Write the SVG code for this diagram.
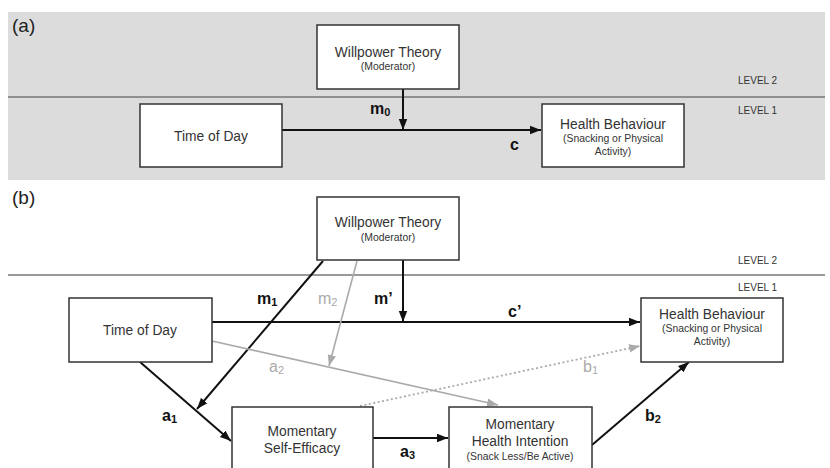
<svg xmlns="http://www.w3.org/2000/svg" width="830" height="468" viewBox="0 0 830 468">
<style>
text{font-family:"Liberation Sans",Arial,sans-serif;fill:#333}
.box{fill:#fff;stroke:#333;stroke-width:1.5}
.t{font-size:13.8px;text-anchor:middle}
.s{font-size:10.4px;text-anchor:middle}
.lv{font-size:10px}
.pl{font-size:19px;fill:#222}
.lb{font-size:16px;font-weight:bold;fill:#111}
.lg{font-size:16px;fill:#aaa}
.k{stroke:#111;stroke-width:2;fill:none}
.g{stroke:#aaa;stroke-width:1.6;fill:none}
.d{stroke:#aaa;stroke-width:1.8;stroke-dasharray:2 2.5;fill:none}
.sep{stroke:#777;stroke-width:1.3}
</style>
<defs>
<marker id="ak" markerUnits="userSpaceOnUse" markerWidth="12" markerHeight="10" refX="11" refY="5" orient="auto"><path d="M0,0.8 L11,5 L0,9.2 Z" fill="#111"/></marker>
<marker id="ag" markerUnits="userSpaceOnUse" markerWidth="12" markerHeight="10" refX="11" refY="5" orient="auto"><path d="M0,0.8 L11,5 L0,9.2 Z" fill="#aaa"/></marker>
</defs>
<rect x="8" y="12" width="817" height="168" fill="#dcdcdc"/>
<line class="sep" x1="8" y1="97" x2="825" y2="97"/>
<line class="sep" x1="8" y1="275" x2="825" y2="275"/>
<text class="pl" x="12" y="32">(a)</text>
<text class="pl" x="12" y="204">(b)</text>
<text class="lv" x="738" y="84">LEVEL 2</text>
<text class="lv" x="738" y="114">LEVEL 1</text>
<text class="lv" x="738" y="264">LEVEL 2</text>
<text class="lv" x="738" y="291">LEVEL 1</text>
<g id="connectors">
<line class="k" x1="282" y1="130" x2="541" y2="130" marker-end="url(#ak)"/>
<line class="k" x1="403" y1="89" x2="403" y2="130" marker-end="url(#ak)"/>
<line class="k" x1="212" y1="322" x2="640" y2="322" marker-end="url(#ak)"/>
<line class="k" x1="403" y1="260" x2="403" y2="322" marker-end="url(#ak)"/>
<line class="k" x1="323" y1="261" x2="197" y2="409" marker-end="url(#ak)"/>
<line class="g" x1="357" y1="261" x2="329" y2="366" marker-end="url(#ag)"/>
<line class="g" x1="212" y1="341" x2="498" y2="405" marker-end="url(#ag)"/>
<line class="d" x1="360" y1="406" x2="640" y2="346" marker-end="url(#ag)"/>
<line class="k" x1="140" y1="362" x2="231" y2="441" marker-end="url(#ak)"/>
<line class="k" x1="373" y1="438" x2="448" y2="438" marker-end="url(#ak)"/>
<line class="k" x1="592" y1="445" x2="689" y2="362" marker-end="url(#ak)"/>
<text class="lb" x="370" y="114">m<tspan font-size="11" dy="2">0</tspan></text>
<text class="lb" x="510" y="150">c</text>
<text class="lb" x="374" y="304">m’</text>
<text class="lb" x="257" y="304">m<tspan font-size="11" dy="2">1</tspan></text>
<text class="lg" x="318" y="304">m<tspan font-size="11" dy="2">2</tspan></text>
<text class="lb" x="508" y="317">c’</text>
<text class="lg" x="269" y="372">a<tspan font-size="11" dy="2">2</tspan></text>
<text class="lg" x="583" y="372">b<tspan font-size="11" dy="2">1</tspan></text>
<text class="lb" x="162" y="421">a<tspan font-size="11" dy="2">1</tspan></text>
<text class="lb" x="400" y="457">a<tspan font-size="11" dy="2">3</tspan></text>
<text class="lb" x="645" y="421">b<tspan font-size="11" dy="2">2</tspan></text>
</g>
<g id="willpower-a">
<rect class="box" x="317" y="25" width="142" height="64"/>
<text class="t" x="388" y="57">Willpower Theory</text>
<text class="s" x="388" y="70">(Moderator)</text>
</g>
<g id="timeofday-a">
<rect class="box" x="140" y="104" width="142" height="63"/>
<text class="t" x="211" y="141">Time of Day</text>
</g>
<g id="health-a">
<rect class="box" x="542" y="104" width="142" height="63"/>
<text class="t" x="613" y="129">Health Behaviour</text>
<text class="s" x="613" y="142">(Snacking or Physical</text>
<text class="s" x="613" y="155">Activity)</text>
</g>
<g id="willpower-b">
<rect class="box" x="317" y="197" width="142" height="63"/>
<text class="t" x="388" y="227">Willpower Theory</text>
<text class="s" x="388" y="241">(Moderator)</text>
</g>
<g id="timeofday-b">
<rect class="box" x="69" y="298" width="143" height="64"/>
<text class="t" x="140" y="335">Time of Day</text>
</g>
<g id="health-b">
<rect class="box" x="641" y="298" width="142" height="64"/>
<text class="t" x="712" y="319">Health Behaviour</text>
<text class="s" x="712" y="332">(Snacking or Physical</text>
<text class="s" x="712" y="345">Activity)</text>
</g>
<g id="selfefficacy">
<rect class="box" x="232" y="407" width="141" height="66"/>
<text class="t" x="302" y="436">Momentary</text>
<text class="t" x="302" y="453">Self-Efficacy</text>
</g>
<g id="intention">
<rect class="box" x="449" y="407" width="143" height="66"/>
<text class="t" x="520" y="429">Momentary</text>
<text class="t" x="520" y="446">Health Intention</text>
<text class="s" x="520" y="460">(Snack Less/Be Active)</text>
</g>
</svg>
